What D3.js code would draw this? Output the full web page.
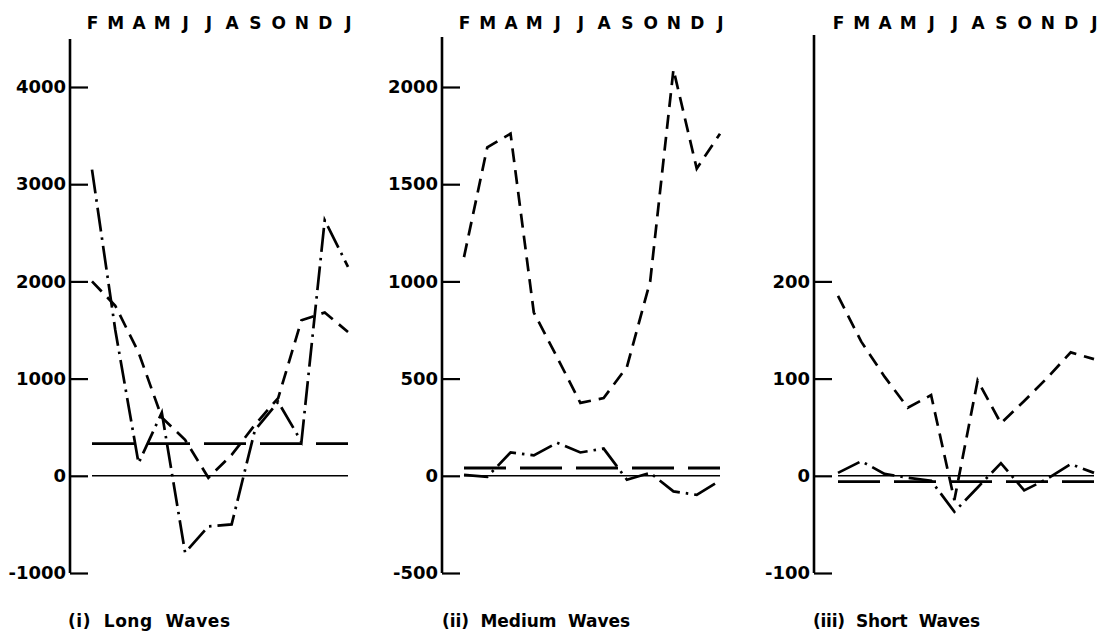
<!DOCTYPE html>
<html>
<head>
<meta charset="utf-8">
<script src="https://cdn.jsdelivr.net/npm/d3@7"></script>
<style>
  html, body { margin: 0; padding: 0; background: #fff; }
  svg { display: block; }
  text { font-family: "DejaVu Sans", sans-serif; fill: #000; }
</style>
</head>
<body>
<script>
// Month sequence along the top of every panel (February to January)
const months = ["F", "M", "A", "M", "J", "J", "A", "S", "O", "N", "D", "J"];

// (i) Long waves
const longTicks = [-1000, 0, 1000, 2000, 3000, 4000];
const longDashed = [2000, 1750, 1270, 600, 370, -20, 215, 525, 800, 1600, 1680, 1480];
const longDashDot = [3150, 1500, 130, 650, -790, -520, -500, 470, 760, 350, 2630, 2150];
const longLevel = 330;

// (ii) Medium waves
const mediumTicks = [-500, 0, 500, 1000, 1500, 2000];
const mediumDashed = [1125, 1690, 1760, 840, 610, 375, 400, 560, 1000, 2090, 1580, 1760];
const mediumDashDot = [5, -5, 120, 105, 170, 120, 140, -20, 15, -80, -98, -25];
const mediumLevel = 40;

// (iii) Short waves
const shortTicks = [-100, 0, 100, 200];
const shortDashed = [185, 138, 102, 70, 83, -25, 98, 54, 77, 101, 127, 120];
const shortDashDot = [3, 15, 2, -2, -5, -37, -12, 13, -15, -3, 12, 3];
const shortLevel = -6;

const titles = ["(i)  Long  Waves", "(ii)  Medium  Waves", "(iii)  Short  Waves"];

const W = 1103, H = 632;
const svg = d3.select("body").append("svg")
  .attr("width", W).attr("height", H)
  .attr("viewBox", `0 0 ${W} ${H}`);

svg.append("rect").attr("width", W).attr("height", H).attr("fill", "#fff");

const panels = [
  { ticks: longTicks, dashed: longDashed, dashDot: longDashDot, level: longLevel,
    domain: [-1000, 4000], axisX: 70, axisTop: 39, x0: 92, x1: 348,
    title: titles[0], titleX: 68, titleW: 162 },
  { ticks: mediumTicks, dashed: mediumDashed, dashDot: mediumDashDot, level: mediumLevel,
    domain: [-500, 2000], axisX: 442, axisTop: 37, x0: 464, x1: 720,
    title: titles[1], titleX: 442, titleW: 188 },
  { ticks: shortTicks, dashed: shortDashed, dashDot: shortDashDot, level: shortLevel,
    domain: [-100, 400], axisX: 814, axisTop: 35, x0: 838, x1: 1094,
    title: titles[2], titleX: 813, titleW: 167 }
];

panels.forEach(p => {
  const x = d3.scalePoint().domain(d3.range(months.length)).range([p.x0, p.x1]);
  const y = d3.scaleLinear().domain(p.domain).range([573, 87]);
  const g = svg.append("g");

  // vertical axis line, running up past the top tick
  g.append("line")
    .attr("x1", p.axisX).attr("x2", p.axisX)
    .attr("y1", y(p.domain[0])).attr("y2", p.axisTop)
    .attr("stroke", "#000").attr("stroke-width", 2.6);

  // value ticks point into the plot, labels sit left of the axis
  const yAxis = d3.axisLeft(y)
    .tickValues(p.ticks)
    .tickSizeInner(-18).tickSizeOuter(0).tickPadding(4)
    .tickFormat(d => String(d));
  const ya = g.append("g").attr("transform", `translate(${p.axisX},0)`).call(yAxis);
  ya.select(".domain").remove();
  ya.selectAll(".tick line").attr("stroke", "#000").attr("stroke-width", 2.2);
  ya.selectAll(".tick text")
    .attr("font-family", "DejaVu Sans, sans-serif")
    .attr("font-size", 18).attr("font-weight", "bold").attr("fill", "#000");

  // month letters along the top
  const xAxis = d3.axisTop(x).tickSize(0).tickPadding(0).tickFormat(i => months[i]);
  const xa = g.append("g").attr("transform", "translate(0,29)").call(xAxis);
  xa.select(".domain").remove();
  xa.selectAll(".tick text")
    .attr("font-family", "DejaVu Sans, sans-serif")
    .attr("font-size", 17).attr("font-weight", "bold").attr("fill", "#000");

  // zero reference
  g.append("line")
    .attr("x1", x(0)).attr("x2", x(months.length - 1))
    .attr("y1", y(0)).attr("y2", y(0))
    .attr("stroke", "#000").attr("stroke-width", 1.6);

  // constant level, long dashes
  g.append("line")
    .attr("x1", x(0)).attr("x2", x(months.length - 1))
    .attr("y1", y(p.level)).attr("y2", y(p.level))
    .attr("stroke", "#000").attr("stroke-width", 2.8)
    .attr("stroke-dasharray", "42,14");

  const line = d3.line().x((d, i) => x(i)).y(d => y(d));

  // short-dashed series
  g.append("path").datum(p.dashed)
    .attr("d", line).attr("fill", "none")
    .attr("stroke", "#000").attr("stroke-width", 2.7)
    .attr("stroke-linejoin", "miter")
    .attr("stroke-dasharray", "14,8");

  // dash-dot series
  g.append("path").datum(p.dashDot)
    .attr("d", line).attr("fill", "none")
    .attr("stroke", "#000").attr("stroke-width", 2.7)
    .attr("stroke-linejoin", "miter")
    .attr("stroke-dasharray", "24,6,2.5,6");

  // panel caption
  g.append("text")
    .attr("x", p.titleX).attr("y", 627)
    .attr("font-size", 17).attr("font-weight", "bold")
    .attr("textLength", p.titleW).attr("lengthAdjust", "spacing")
    .attr("xml:space", "preserve")
    .style("white-space", "pre")
    .text(p.title);
});
</script>
</body>
</html>
